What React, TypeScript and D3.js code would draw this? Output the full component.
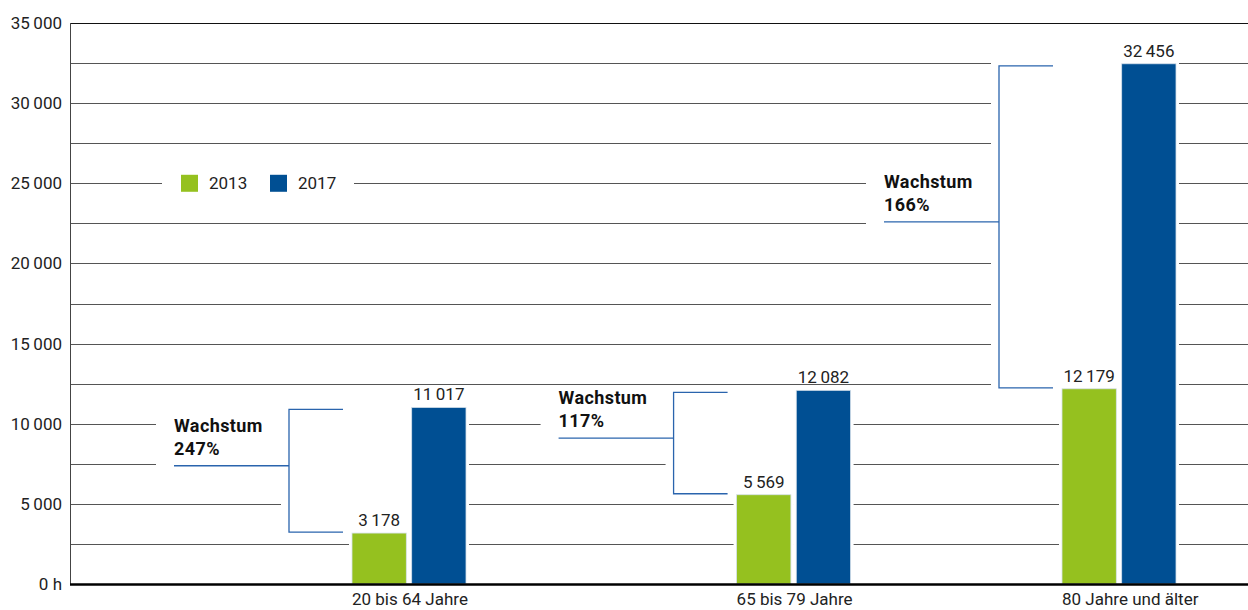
import React from "react";
import * as d3 from "d3";

const categories = ["20 bis 64 Jahre", "65 bis 79 Jahre", "80 Jahre und älter"];
const seriesNames = ["2013", "2017"];
const values2013 = [3178, 5569, 12179];
const values2017 = [11017, 12082, 32456];
const yTickValues = [0, 5000, 10000, 15000, 20000, 25000, 30000, 35000];
const gridStep = 2500;
const growthLabel = "Wachstum";

// layout
const W = 1248;
const H = 610;
const AXIS_X = 70;
const Y0 = 584;
const Y1 = 23;
const groupSlots = [0, 13, 24];
const FONT = "Roboto, 'Noto Sans', sans-serif";
const GREEN = "#95c11f";
const BLUE = "#004f93";
const LINE_BLUE = "#2a64ad";
const colors = [GREEN, BLUE];

const loc = d3.formatLocale({ thousands: "\u2009", grouping: [3], decimal: ",", currency: ["", ""] });
const fmt = loc.format(",d");

export default function App() {
  const y = d3.scaleLinear().domain([0, 35000]).range([Y0, Y1]);
  const xSlot = d3.scaleLinear().domain([0, 24]).range([409, 1119]);
  const inner = d3.scaleBand<string>().domain(seriesNames).range([-57, 57]).paddingInner(0.09);
  const bw = inner.bandwidth();
  const grid = d3.range(0, 35000 + 1, gridStep);

  const groups = categories.map((c, i) => {
    const cx = xSlot(groupSlots[i]);
    const vals = [values2013[i], values2017[i]];
    const bars = vals.map((v, j) => ({
      x: cx + (inner(seriesNames[j]) as number),
      y: y(v),
      h: Y0 - y(v),
      v,
      color: colors[j],
    }));
    const top = y(values2017[i]) + 2;
    const bot = y(values2013[i]) - 1;
    const mid = (top + bot) / 2 - 5;
    const vx = cx - 120;
    const hx2 = cx - 66;
    const tx = cx - 235;
    const pct = Math.round(((values2017[i] - values2013[i]) / values2013[i]) * 100);
    return { c, cx, bars, top, bot, mid, vx, hx2, tx, pct };
  });

  const legendX = 181;
  const legendY = y(25000);

  return (
    <div style={{ position: "absolute", left: 0, top: 0 }}>
      <svg width={W} height={H} style={{ display: "block", fontFamily: FONT }}>
        <rect x={0} y={0} width={W} height={H} fill="#fff" />
        {/* gridlines */}
        {grid.map((g) => (
          <line
            key={g}
            x1={AXIS_X}
            x2={W}
            y1={Math.round(y(g)) + 0.5}
            y2={Math.round(y(g)) + 0.5}
            stroke={g === 35000 ? "#111" : "#555"}
            strokeWidth={1}
          />
        ))}
        {/* knockouts */}
        {groups.map((g, i) => (
          <g key={"ko" + i} fill="#fff">
            <rect x={g.tx - 18} y={g.mid - 50} width={g.vx - (g.tx - 18)} height={56} />
            <rect x={g.vx - 8} y={g.top - 4} width={g.cx + 3 - (g.vx - 8)} height={g.bot - g.top + 10} />
            {g.bars.map((b, j) => (
              <rect key={j} x={b.x - 3} y={b.y - 3} width={bw + 6} height={b.h + 3} />
            ))}
          </g>
        ))}
        <rect x={162} y={legendY - 12} width={354 - 162} height={24} fill="#fff" />
        {/* y axis */}
        <line x1={AXIS_X + 0.5} x2={AXIS_X + 0.5} y1={Y1} y2={Y0} stroke="#444" strokeWidth={1} />
        {yTickValues.map((t) => (
          <text
            key={t}
            x={62}
            y={y(t)}
            dy="0.35em"
            textAnchor="end"
            fontSize={17}
            fill="#222"
          >
            {t === 0 ? "0 h" : fmt(t)}
          </text>
        ))}
        {/* bars */}
        {groups.map((g, i) => (
          <g key={"b" + i}>
            {g.bars.map((b, j) => (
              <g key={j}>
                <rect x={b.x} y={b.y} width={bw} height={b.h} fill={b.color} stroke="#d5e0ea" strokeWidth={0.8} />
                <text x={b.x + bw / 2} y={b.y - 7} textAnchor="middle" fontSize={17} fill="#222">
                  {fmt(b.v)}
                </text>
              </g>
            ))}
            <text x={g.bars[0].x} y={605} fontSize={17} fill="#222">
              {g.c}
            </text>
            {/* bracket */}
            <path
              d={`M${g.hx2},${g.top}H${g.vx}V${g.bot}H${g.hx2}`}
              fill="none"
              stroke={LINE_BLUE}
              strokeWidth={1.3}
            />
            <line x1={g.tx} x2={g.vx} y1={g.mid} y2={g.mid} stroke={LINE_BLUE} strokeWidth={1.3} />
            <text x={g.tx} y={g.mid - 34} fontSize={18} fontWeight="bold" fill="#111" letterSpacing={0.4}>
              {growthLabel}
            </text>
            <text x={g.tx} y={g.mid - 11} fontSize={18} fontWeight="bold" fill="#111" letterSpacing={0.4}>
              {g.pct + "%"}
            </text>
          </g>
        ))}
        {/* bottom axis */}
        <line x1={AXIS_X} x2={W} y1={Y0 + 0.5} y2={Y0 + 0.5} stroke="#000" strokeWidth={2.5} />
        {/* legend */}
        {seriesNames.map((s, j) => (
          <g key={s} transform={`translate(${legendX + j * 89},${legendY})`}>
            <rect x={0} y={-8.5} width={17} height={17} fill={colors[j]} />
            <text x={28} y={0} dy="0.35em" fontSize={17} fill="#222">
              {s}
            </text>
          </g>
        ))}
      </svg>
    </div>
  );
}
